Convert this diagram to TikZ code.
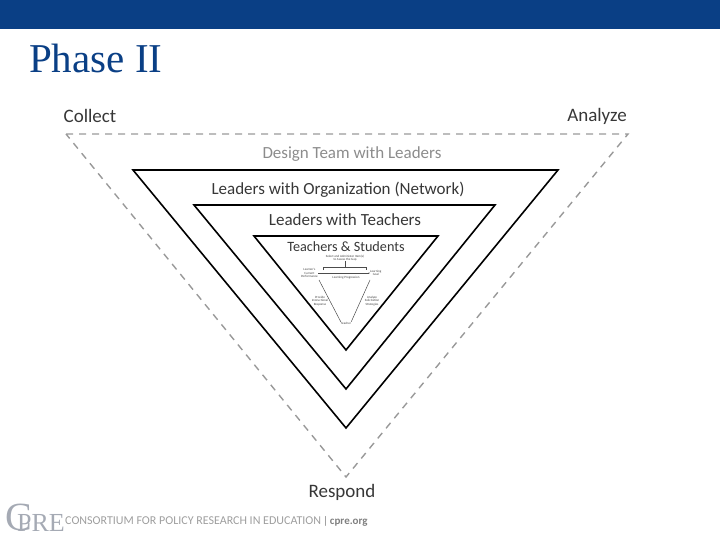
\documentclass[tikz,border=0pt]{standalone}
\usepackage{fontspec}
\usepackage{xcolor}
\setmainfont{Carlito}
\newfontfamily\titlefont{Liberation Serif}
\usetikzlibrary{arrows.meta,positioning,calc}
\definecolor{cprecolor}{RGB}{10,63,133}
\definecolor{labelcolor}{RGB}{55,55,55}
\definecolor{logocolor}{RGB}{165,170,180}

\begin{document}
\begin{tikzpicture}[
  x=1pt, y=-1pt,
  label/.style={font=\fontsize{17}{19}\selectfont, text=labelcolor, inner sep=0pt},
  corner/.style={label, font=\fontsize{19}{21}\selectfont},
  level/.style={line width=1.6pt, line join=miter},
  outer/.style={draw=black!40, line width=1.4pt, dash pattern=on 7pt off 6pt},
  tiny/.style={font=\fontsize{3.2}{3.6}\selectfont, align=center, inner sep=0pt, text=black!75},
  thin line/.style={draw=black!70, line width=0.5pt}
]
\useasboundingbox (0,0) rectangle (720,540);
\fill[cprecolor] (0,0) rectangle (720,29);
\node[font=\titlefont\fontsize{41}{43}\selectfont, text=cprecolor, anchor=base west, inner sep=0pt] (title) at (29,73) {Phase II};

% outer dashed triangle
\coordinate (o1) at (66,134);
\coordinate (o2) at (628,134);
\coordinate (o3) at (346,477);
\draw[outer] (o1) -- (o2) -- (o3) -- cycle;

\node[corner] (collect) at (90,116) {Collect};
\node[corner] (analyze) at (597,116) {Analyze};
\node[corner] (respond) at (342,492) {Respond};
\node[label, text=black!45] (design) at (352,154) {Design Team with Leaders};

% nested triangles
\draw[level] (133,170) -- (558,170) -- (346,428) -- cycle;
\draw[level] (194,205) -- (495,205) -- (346,389) -- cycle;
\draw[level] (254,236) -- (438,236) -- (346,350) -- cycle;

\node[label] (network) at (338,190) {Leaders with Organization (Network)};
\node[label] (teachers) at (345,220) {Leaders with Teachers};
\node[label, font=\fontsize{14.2}{16}\selectfont] (students) at (346,247) {Teachers \& Students};

% small diagram inside
\node[tiny] (select) at (345,258) {Select and Administer Item(s)\\to Assess the Gap};
\node[tiny, left=1pt of {(319,273)}] (current) {Learner's\\Current\\Performance};
\node[tiny, right=1pt of {(369,273)}] (goal) {Learning\\Goal};
\node[tiny] (progress) at (346,278) {Learning Progression};
\node[tiny] (teacher) at (346,323) {Teacher};
\node[tiny] (provide) at (320,301) {Provide\\Instructional\\Response};
\node[tiny] (solicit) at (372,301) {Analyze\\Solicitation\\Strategies};
\draw[thin line, -{Stealth[length=1.5pt]}] (current.east) -- (goal.west);
\draw[thin line] (323,270) -- (323,267) -- (366,267) -- (366,270);
\draw[thin line] (345,267) -- (select.south);
\draw[thin line] (319,280) -- (teacher.north west);
\draw[thin line] (370,280) -- (teacher.north east);

% footer
\node[font=\titlefont\fontsize{40}{40}\selectfont, text=logocolor, anchor=base west, inner sep=0pt] (logo) at (5,530) {C};
\node[font=\titlefont\fontsize{26}{26}\selectfont, text=logocolor, anchor=base west, inner sep=0pt] (logotext) at (17,531) {PRE};
\node[font=\fontsize{12}{14}\selectfont, text=black!38, anchor=west, inner sep=0pt] (consortium) at (65,521) {CONSORTIUM FOR POLICY RESEARCH IN EDUCATION};
\node[font=\fontsize{11}{13}\selectfont, text=black!50, anchor=west, inner sep=0pt, right=1.5pt of consortium] (site) {|\,\textbf{cpre.org}};
\end{tikzpicture}
\end{document}
